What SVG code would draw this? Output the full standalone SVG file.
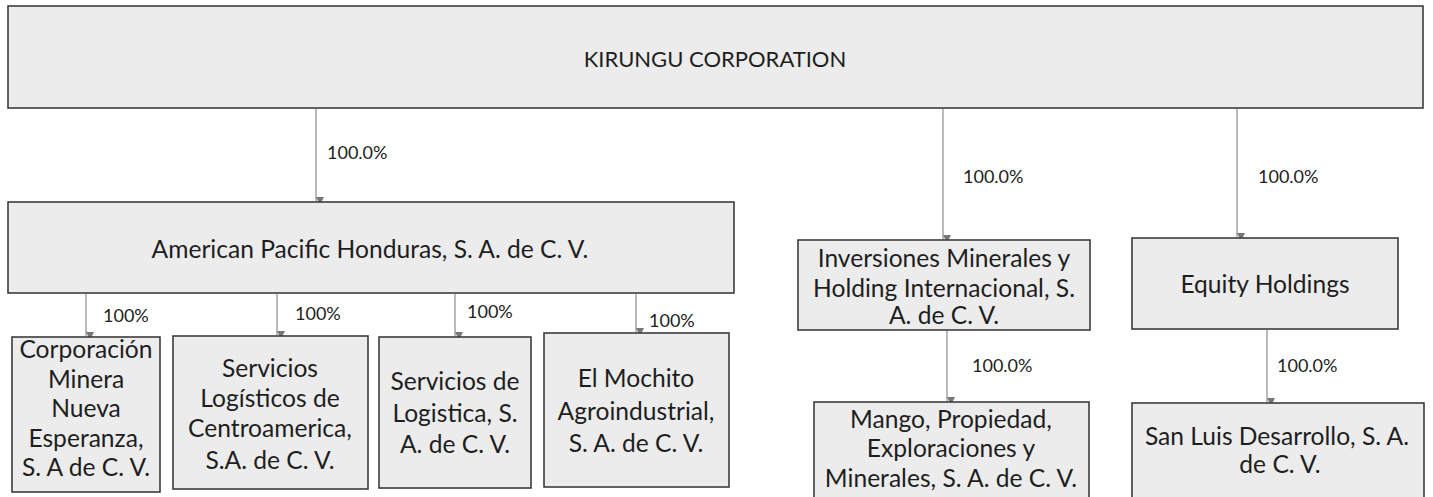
<svg xmlns="http://www.w3.org/2000/svg" width="1433" height="497" viewBox="0 0 1433 497">
<style>
.box{fill:#ececec;stroke:#3c3c3c;stroke-width:1.6}
.t{font-family:Lato,"Open Sans","Liberation Sans",sans-serif;font-size:24.6px;fill:#1e1e1e;text-anchor:middle}
.top{font-size:22px}
.p{font-family:Lato,"Open Sans","Liberation Sans",sans-serif;font-size:18px;fill:#222}
.c{stroke:#8c8c8c;stroke-width:1.2;fill:none;marker-end:url(#ah)}
</style>
<defs>
<marker id="ah" markerUnits="userSpaceOnUse" markerWidth="8" markerHeight="8" viewBox="0 0 8 8" refX="4" refY="8" orient="auto-start-reverse">
<path d="M0,0 L8,0 L4,8 Z" fill="#777" transform="rotate(-90 4 4)"/>
</marker>
</defs>
<rect width="1433" height="497" fill="#fff"/>
<g id="connectors">
<line class="c" x1="316" y1="109" x2="316" y2="201"/>
<line class="c" x1="943" y1="109" x2="943" y2="239"/>
<line class="c" x1="1237" y1="109" x2="1237" y2="237"/>
<line class="c" x1="947" y1="331" x2="947" y2="401"/>
<line class="c" x1="1267" y1="330" x2="1267" y2="402"/>
<line class="c" x1="86" y1="294" x2="86" y2="336"/>
<line class="c" x1="277" y1="294" x2="277" y2="335"/>
<line class="c" x1="455" y1="294" x2="455" y2="336"/>
<line class="c" x1="636" y1="294" x2="636" y2="332"/>
<text class="p" x="327" y="159">100.0%</text>
<text class="p" x="963" y="183">100.0%</text>
<text class="p" x="1258" y="183">100.0%</text>
<text class="p" x="972" y="372">100.0%</text>
<text class="p" x="1277" y="372">100.0%</text>
<text class="p" x="103" y="322">100%</text>
<text class="p" x="295" y="320">100%</text>
<text class="p" x="467" y="318">100%</text>
<text class="p" x="649" y="327">100%</text>
</g>
<g id="kirungu">
<rect class="box" x="8" y="6" width="1415" height="102"/>
<text class="t top" x="715" y="67">KIRUNGU CORPORATION</text>
</g>
<g id="american-pacific">
<rect class="box" x="8" y="202" width="726" height="91"/>
<text class="t" x="370" y="258">American Pacific Honduras, S. A. de C. V.</text>
</g>
<g id="corporacion">
<rect class="box" x="12" y="337" width="148" height="155"/>
<text class="t" x="86" y="358">Corporación</text>
<text class="t" x="86" y="388">Minera</text>
<text class="t" x="86" y="417">Nueva</text>
<text class="t" x="86" y="447">Esperanza,</text>
<text class="t" x="86" y="476">S. A de C. V.</text>
</g>
<g id="servicios-logisticos">
<rect class="box" x="173" y="336" width="195" height="153"/>
<text class="t" x="270" y="377">Servicios</text>
<text class="t" x="270" y="407">Logísticos de</text>
<text class="t" x="270" y="437">Centroamerica,</text>
<text class="t" x="270" y="469">S.A. de C. V.</text>
</g>
<g id="servicios-logistica">
<rect class="box" x="379" y="337" width="152" height="151"/>
<text class="t" x="455" y="390">Servicios de</text>
<text class="t" x="455" y="422">Logistica, S.</text>
<text class="t" x="455" y="453">A. de C. V.</text>
</g>
<g id="el-mochito">
<rect class="box" x="544" y="333" width="185" height="154"/>
<text class="t" x="636" y="387">El Mochito</text>
<text class="t" x="636" y="420">Agroindustrial,</text>
<text class="t" x="636" y="452">S. A. de C. V.</text>
</g>
<g id="inversiones">
<rect class="box" x="798" y="240" width="292" height="90"/>
<text class="t" x="944" y="267">Inversiones Minerales y</text>
<text class="t" x="944" y="297">Holding Internacional, S.</text>
<text class="t" x="944" y="324">A. de C. V.</text>
</g>
<g id="equity-holdings">
<rect class="box" x="1132" y="238" width="266" height="91"/>
<text class="t" x="1265" y="293">Equity Holdings</text>
</g>
<g id="mango">
<rect class="box" x="814" y="402" width="275" height="110"/>
<text class="t" x="951" y="428">Mango, Propiedad,</text>
<text class="t" x="951" y="457">Exploraciones y</text>
<text class="t" x="951" y="487">Minerales, S. A. de C. V.</text>
</g>
<g id="san-luis">
<rect class="box" x="1132" y="403" width="292" height="110"/>
<text class="t" x="1277" y="445">San Luis Desarrollo, S. A.</text>
<text class="t" x="1280" y="473">de C. V.</text>
</g>
</svg>
